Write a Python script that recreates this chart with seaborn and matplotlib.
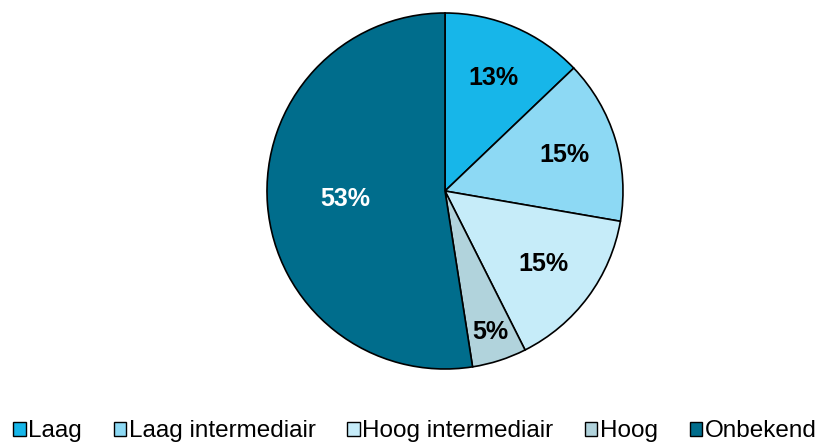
import numpy as np
import matplotlib
matplotlib.use("Agg")
import matplotlib.pyplot as plt
import seaborn as sns
from matplotlib.patches import Patch

categories = ["Laag", "Laag intermediair", "Hoog intermediair", "Hoog", "Onbekend"]
shares = [13, 15, 15, 5, 53]
colors = ["#17B6E9", "#8DD9F4", "#C6ECF9", "#B1D3DC", "#006D8C"]
label_colors = ["black", "black", "black", "black", "white"]
label_radius = [0.69, 0.70, 0.69, 0.83, 0.56]

sns.set_theme(style="white")
plt.rcParams["font.family"] = ["Liberation Sans", "DejaVu Sans"]

fig = plt.figure(figsize=(8.22, 4.45), dpi=100)
ax = fig.add_axes([0.3248, 0.1708, 0.4331, 0.8])

wedges, _ = ax.pie(
    shares, colors=colors, startangle=90, counterclock=False,
    wedgeprops=dict(edgecolor="black", linewidth=1.2),
)
ax.set_xlim(-1, 1)
ax.set_ylim(-1, 1)
ax.set_aspect("equal")
ax.axis("off")

for w, val, tc, r in zip(wedges, shares, label_colors, label_radius):
    mid = np.deg2rad((w.theta1 + w.theta2) / 2)
    ax.text(r * np.cos(mid), r * np.sin(mid), f"{val}%",
            ha="center", va="center", fontsize=18, fontweight="bold", color=tc)

handles = [Patch(facecolor=c, edgecolor="black", linewidth=1.0) for c in colors]
leg = fig.legend(handles, categories, loc="lower center", bbox_to_anchor=(0.505, -0.043),
                 ncol=5, frameon=False, fontsize=17.5, handlelength=0.5, handleheight=0.5,
                 handletextpad=0.12, columnspacing=1.3)
for t in leg.get_texts():
    t.set_color("black")

fig.savefig("out.png", dpi=100)
